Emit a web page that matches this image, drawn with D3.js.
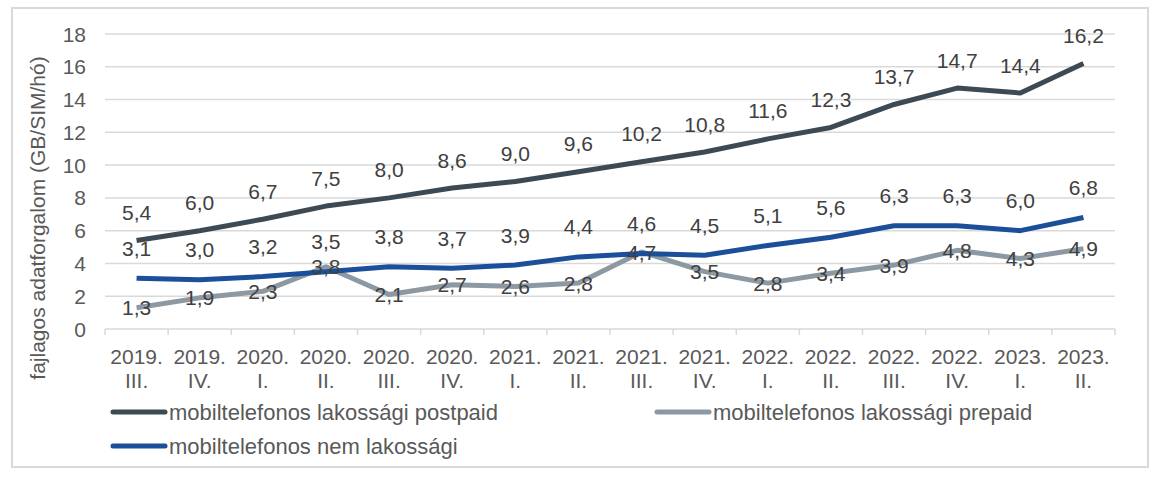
<!DOCTYPE html>
<html><head><meta charset="utf-8">
<script src="https://cdn.jsdelivr.net/npm/d3@7"></script>
<style>body{margin:0;background:#fff;font-family:"Liberation Sans",Arial,sans-serif;}</style>
</head><body><svg id="c" width="1155" height="479"></svg>
<script>
const categories = ["2019.|III.","2019.|IV.","2020.|I.","2020.|II.","2020.|III.","2020.|IV.","2021.|I.","2021.|II.","2021.|III.","2021.|IV.","2022.|I.","2022.|II.","2022.|III.","2022.|IV.","2023.|I.","2023.|II."];
const postpaid = [5.4,6.0,6.7,7.5,8.0,8.6,9.0,9.6,10.2,10.8,11.6,12.3,13.7,14.7,14.4,16.2];
const prepaid = [1.3,1.9,2.3,3.8,2.1,2.7,2.6,2.8,4.7,3.5,2.8,3.4,3.9,4.8,4.3,4.9];
const nemLak = [3.1,3.0,3.2,3.5,3.8,3.7,3.9,4.4,4.6,4.5,5.1,5.6,6.3,6.3,6.0,6.8];
const yTicks = [0,2,4,6,8,10,12,14,16,18];
const seriesNames = ["mobiltelefonos lakossági postpaid","mobiltelefonos lakossági prepaid","mobiltelefonos nem lakossági"];
const yTitle = "fajlagos adatforgalom (GB/SIM/hó)";

const svg = d3.select("#c");
const L=105,R=1115,T=34,B=329;
svg.append("rect").attr("x",12).attr("y",8).attr("width",1136).attr("height",459).attr("fill","#fff").attr("stroke","#d9d9d9").attr("stroke-width",2);
const x = d3.scaleBand().domain(categories).range([L,R]);
const y = d3.scaleLinear().domain([0,18]).range([B,T]);
const fmt = v => d3.format(".1f")(v).replace(".",",");

// grid
svg.append("g").selectAll("line").data(yTicks.filter(d=>d>0)).join("line")
  .attr("x1",L).attr("x2",R).attr("y1",d=>y(d)).attr("y2",d=>y(d))
  .attr("stroke","#d9d9d9").attr("stroke-width",1.5);
// y labels
svg.append("g").selectAll("text").data(yTicks).join("text")
  .attr("x",86).attr("y",d=>y(d)).attr("dy","0.36em").attr("text-anchor","end")
  .attr("font-size",21).attr("fill","#595959").text(d=>d);
// x axis
svg.append("line").attr("x1",L).attr("x2",R).attr("y1",B).attr("y2",B).attr("stroke","#d9d9d9").attr("stroke-width",1.5);
const bounds = categories.map(c=>x(c)).concat([R]);
svg.append("g").selectAll("line").data(bounds).join("line")
  .attr("x1",d=>d).attr("x2",d=>d).attr("y1",B).attr("y2",B+6).attr("stroke","#d9d9d9").attr("stroke-width",1.5);
const xl = svg.append("g").selectAll("text").data(categories).join("text")
  .attr("x",d=>x(d)+x.bandwidth()/2).attr("text-anchor","middle").attr("font-size",21).attr("fill","#595959");
xl.append("tspan").attr("x",d=>x(d)+x.bandwidth()/2).attr("y",363.5).text(d=>d.split("|")[0]);
xl.append("tspan").attr("x",d=>x(d)+x.bandwidth()/2).attr("y",388).text(d=>d.split("|")[1]);
// y title
svg.append("text").attr("transform","translate(45,218) rotate(-90)").attr("text-anchor","middle")
  .attr("font-size",21).attr("fill","#595959").text(yTitle);

const line = d3.line().x((d,i)=>x(categories[i])+x.bandwidth()/2).y(d=>y(d));
const series = [
  {data:prepaid,color:"#8c98a2",off:0},
  {data:nemLak,color:"#1c4f99",off:-30},
  {data:postpaid,color:"#3d4a53",off:-28}
];
series.forEach(s=>{
  svg.append("path").datum(s.data).attr("d",line).attr("fill","none").attr("stroke",s.color).attr("stroke-width",5).attr("stroke-linejoin","round");
});
series.forEach(s=>{
  svg.append("g").selectAll("text").data(s.data).join("text")
    .attr("x",(d,i)=>x(categories[i])+x.bandwidth()/2).attr("y",d=>y(d)+s.off).attr("dy","0.36em")
    .attr("text-anchor","middle").attr("font-size",21).attr("fill","#404040").text(fmt);
});
// legend
const leg = [
  {name:seriesNames[0],color:"#3d4a53",x:113,y:412},
  {name:seriesNames[1],color:"#8c98a2",x:657,y:412},
  {name:seriesNames[2],color:"#1c4f99",x:113,y:446}
];
leg.forEach(l=>{
  svg.append("line").attr("x1",l.x).attr("x2",l.x+52).attr("y1",l.y).attr("y2",l.y).attr("stroke",l.color).attr("stroke-width",5).attr("stroke-linecap","round");
  svg.append("text").attr("x",l.x+56).attr("y",l.y).attr("dy","0.36em").attr("font-size",22).attr("fill","#595959").text(l.name);
});
</script></body></html>
